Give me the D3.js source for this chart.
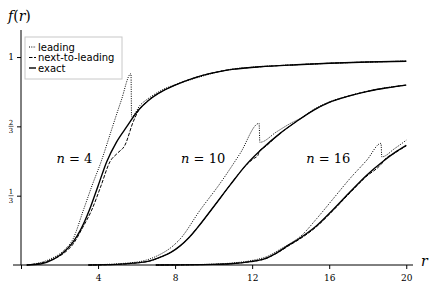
<!DOCTYPE html>
<html>
<head>
<meta charset="utf-8">
<script src="https://cdn.jsdelivr.net/npm/d3@7"></script>
<style>
body { margin: 0; background: #fff; }
</style>
</head>
<body>
<svg width="436" height="290"></svg>
<script>
// valeurs : [r, f(r)]
const exact4 = [[0.3,0],[1.0,0.005],[1.7,0.028],[2.2,0.06],[2.7,0.11],[3.1,0.17],[3.55,0.264],[4.0,0.38],[4.45,0.497],[4.95,0.59],[5.49,0.665],[6.1,0.745],[6.6,0.79],[7.13,0.825],[8.0,0.865],[9.0,0.9],[10.7,0.937],[12.4,0.953],[14.3,0.963],[16,0.97],[18,0.976],[20,0.98]];
const lead4 = [[0.3,0],[1.5,0.028],[2.2,0.068],[2.7,0.125],[3.24,0.264],[3.7,0.385],[4.16,0.497],[4.7,0.65],[5.2,0.79],[5.71,0.92],[5.74,0.713],[6.2,0.77],[6.6,0.8],[7.4,0.845],[8.3,0.876],[9.2,0.902],[10.7,0.938],[12.4,0.954],[14.3,0.963],[16,0.97],[18,0.976],[20,0.98]];
const nlo4 = [[0.3,0],[1.5,0.022],[2.2,0.055],[2.7,0.1],[3.2,0.18],[3.67,0.264],[4.15,0.38],[4.62,0.497],[5.0,0.537],[5.4,0.577],[5.83,0.69],[6.1,0.742],[6.6,0.79],[7.13,0.825],[8.0,0.865],[9.0,0.9],[10.7,0.937],[12.4,0.953],[14.3,0.963],[16,0.97],[18,0.976],[20,0.98]];

const exact10 = [[3.5,0],[5,0.003],[6,0.01],[6.7,0.02],[7.3,0.04],[7.8,0.062],[8.26,0.092],[8.7,0.13],[9.13,0.176],[10.0,0.28],[10.86,0.385],[11.72,0.485],[12.59,0.565],[13.45,0.633],[14.3,0.69],[15.2,0.745],[16,0.782],[17,0.812],[18,0.835],[19,0.852],[20,0.865]];
const lead10 = [[3.5,0],[6,0.014],[7.2,0.05],[7.8,0.085],[8.26,0.125],[9.3,0.264],[10.34,0.393],[11.38,0.537],[12.36,0.681],[12.40,0.59],[13.28,0.641],[13.97,0.68],[14.6,0.71],[15.2,0.748],[16,0.784],[17,0.813],[18,0.836],[19,0.853],[20,0.866]];
const nlo10 = [[3.5,0],[5,0.003],[6,0.01],[6.7,0.02],[7.3,0.04],[7.8,0.062],[8.26,0.092],[8.7,0.13],[9.13,0.176],[10.0,0.28],[10.86,0.385],[11.72,0.483],[12.05,0.51],[12.3,0.527],[12.38,0.55],[12.59,0.563],[13.45,0.633],[14.3,0.69],[15.2,0.745],[16,0.782],[17,0.812],[18,0.835],[19,0.852],[20,0.865]];

const exact16 = [[7,0],[10,0.003],[10.86,0.006],[11.9,0.016],[12.59,0.028],[13.3,0.06],[13.97,0.1],[14.49,0.13],[15.36,0.19],[16.22,0.268],[17.09,0.352],[17.96,0.433],[18.82,0.5],[19.4,0.54],[20,0.575]];
const lead16 = [[7,0],[10,0.004],[11,0.01],[12,0.022],[12.8,0.042],[13.5,0.078],[14.0,0.105],[14.49,0.136],[15.36,0.224],[16.22,0.32],[17.09,0.417],[17.96,0.505],[18.69,0.585],[18.73,0.52],[19.4,0.56],[20,0.60]];
const nlo16 = [[7,0],[10,0.003],[10.86,0.006],[11.9,0.016],[12.59,0.027],[13.3,0.058],[13.97,0.097],[14.49,0.126],[15.36,0.186],[16.22,0.264],[17.09,0.348],[17.96,0.428],[18.6,0.475],[18.75,0.49],[18.82,0.5],[19.4,0.538],[20,0.573]];

const rTicks = [0, 4, 8, 12, 16, 20];
const fTicks = [1/3, 2/3, 1];
const fTickNum = ["1", "2", null];
const fTickDen = ["3", "3", null];
const nLabels = [["4", 3.7, 0.49], ["10", 10.6, 0.49], ["16", 17.1, 0.49]];
const legendItems = ["leading", "next-to-leading", "exact"];

let svg = d3.select("svg");

let x = d3.scaleLinear().domain([0, 20.35]).range([21, 413]);
let y = d3.scaleLinear().domain([0, 1.13]).range([265, 30]);

// axe des abscisses
svg.append("line")
    .attr("x1", 13).attr("x2", x.range()[1])
    .attr("y1", y(0)).attr("y2", y(0))
    .attr("stroke", "black");

let gx = svg.append("g")
    .attr("transform", `translate(0,${y(0)})`)
    .call(d3.axisBottom(x).tickValues(rTicks).tickSize(4).tickSizeOuter(0)
        .tickFormat(d => d === 0 ? "" : d));
gx.select(".domain").remove();
gx.selectAll("text")
    .attr("font-family", "DejaVu Serif")
    .attr("font-size", 9)
    .attr("dy", "0.95em");

// axe des ordonnées
let gy = svg.append("g")
    .attr("transform", `translate(${x(0)},0)`)
    .call(d3.axisLeft(y).tickValues(fTicks).tickSize(4).tickSizeOuter(0).tickFormat(""));
gy.select(".domain").attr("d", `M0,${y.range()[1]}V${y(0)}`);

// étiquettes en fraction
fTicks.forEach((v, i) => {
    let g = svg.append("g").attr("transform", `translate(11,${y(v)})`)
        .attr("font-family", "DejaVu Serif");
    if (fTickNum[i] === null) {
        g.append("text").attr("text-anchor", "middle").attr("dy", "0.35em")
            .attr("font-size", 9).text("1");
    } else {
        g.append("text").attr("text-anchor", "middle").attr("y", -1.5)
            .attr("font-size", 7).text(fTickNum[i]);
        g.append("line").attr("x1", -2.5).attr("x2", 2.5)
            .attr("stroke", "black").attr("stroke-width", 0.6);
        g.append("text").attr("text-anchor", "middle").attr("y", 7)
            .attr("font-size", 7).text(fTickDen[i]);
    }
});

// titres des axes
svg.append("text")
    .attr("x", 8).attr("y", 21)
    .attr("font-family", "DejaVu Serif").attr("font-size", 14)
    .html('<tspan font-style="italic">f</tspan>(<tspan font-style="italic">r</tspan>)');
svg.append("text")
    .attr("x", 421).attr("y", 266)
    .attr("font-family", "DejaVu Serif").attr("font-size", 14)
    .attr("font-style", "italic")
    .text("r");

// courbes
let ligne = d3.line()
    .x(d => x(d[0]))
    .y(d => y(d[1]))
    .curve(d3.curveMonotoneX);

function trace(data, style) {
    let p = svg.append("path")
        .datum(data)
        .attr("d", ligne)
        .attr("fill", "none")
        .attr("stroke", "black");
    if (style === "dot") p.attr("stroke-width", 1).attr("stroke-dasharray", "1,1.3");
    if (style === "dash") p.attr("stroke-width", 1).attr("stroke-dasharray", "3.5,1.5");
    if (style === "solid") p.attr("stroke-width", 1.4);
}

[lead4, lead10, lead16].forEach(d => trace(d, "dot"));
[nlo4, nlo10, nlo16].forEach(d => trace(d, "dash"));
[exact4, exact10, exact16].forEach(d => trace(d, "solid"));

// étiquettes n = ...
nLabels.forEach(l => {
    svg.append("text")
        .attr("x", x(l[1])).attr("y", y(l[2]))
        .attr("text-anchor", "end")
        .attr("font-family", "DejaVu Serif").attr("font-size", 13)
        .html(`<tspan font-style="italic">n</tspan> = ${l[0]}`);
});

// légende
let leg = svg.append("g").attr("transform", "translate(25,37)");
leg.append("rect")
    .attr("width", 97).attr("height", 42)
    .attr("fill", "white").attr("stroke", "#c8c8c8");
let styles = ["1,1.3", "3.5,1.5", null];
legendItems.forEach((t, i) => {
    let ly = 10 + i * 10.5;
    leg.append("line")
        .attr("x1", 4).attr("x2", 11)
        .attr("y1", ly).attr("y2", ly)
        .attr("stroke", "black")
        .attr("stroke-width", i === 2 ? 1.4 : 1)
        .attr("stroke-dasharray", styles[i]);
    leg.append("text")
        .attr("x", 13).attr("y", ly).attr("dy", "0.35em")
        .attr("font-family", "DejaVu Sans").attr("font-size", 10)
        .text(t);
});
</script>
</body>
</html>
